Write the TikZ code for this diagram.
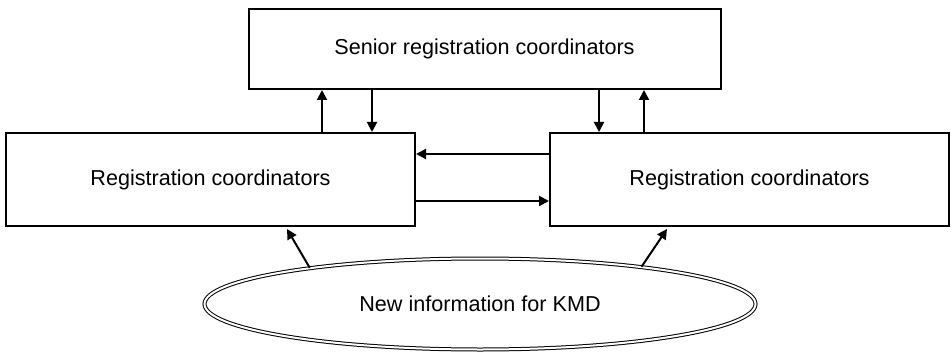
\documentclass[tikz,border=0pt]{standalone}
\usepackage{fontspec}
\setmainfont{Liberation Sans}
\usetikzlibrary{shapes.geometric,arrows.meta}

\begin{document}
\begin{tikzpicture}[
    x=0.5pt, y=-0.5pt,
    box/.style={rectangle, draw, line width=1pt, font=\fontsize{10.8}{13}\selectfont, align=center},
    info/.style={ellipse, draw, line width=0.5pt, double, double distance=1pt, inner sep=0pt, font=\fontsize{10.8}{13}\selectfont},
    arrow/.style={-{Triangle[length=5pt,width=5pt]}, line width=1pt},
]
    \useasboundingbox (0,0) rectangle (951,352);

    % Coordinator boxes
    \node[box, minimum width=236pt, minimum height=40pt] (senior) at (484.5,49) {Senior registration coordinators};
    \node[box, minimum width=204.5pt, minimum height=46.5pt] (regleft) at (210.5,179.5) {Registration coordinators};
    \node[box, minimum width=199.5pt, minimum height=46.5pt] (regright) at (749.5,179.5) {Registration coordinators};

    % Source of information
    \node[info, minimum width=275.5pt, minimum height=45.5pt] (newinfo) at (480,304) {New information for KMD};

    % Positions of the arrows
    \coordinate (upleft) at (322,0);
    \coordinate (downleft) at (372,0);
    \coordinate (downright) at (599,0);
    \coordinate (upright) at (644,0);
    \coordinate (toleft) at (0,154);
    \coordinate (toright) at (0,201);
    \coordinate (infoleft) at (287,0);
    \coordinate (inforight) at (667,0);

    % Arrows between senior and regional coordinators
    \draw[arrow] (upleft |- regleft.north) -- (upleft |- senior.south);
    \draw[arrow] (downleft |- senior.south) -- (downleft |- regleft.north);
    \draw[arrow] (downright |- senior.south) -- (downright |- regright.north);
    \draw[arrow] (upright |- regright.north) -- (upright |- senior.south);

    % Arrows between the two coordinator boxes
    \draw[arrow] (toleft -| regright.west) -- (toleft -| regleft.east);
    \draw[arrow] (toright -| regleft.east) -- (toright -| regright.west);

    % Arrows from new information
    \draw[arrow] (newinfo.168) -- ([yshift=-1pt]infoleft |- regleft.south);
    \draw[arrow] (newinfo.13) -- ([yshift=-1pt]inforight |- regright.south);
\end{tikzpicture}
\end{document}
